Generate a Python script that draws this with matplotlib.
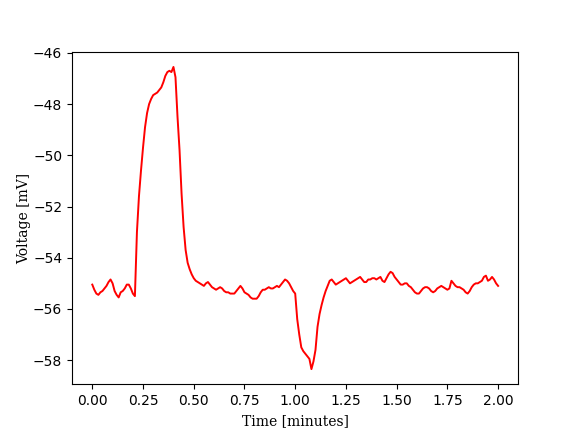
import numpy as np
import matplotlib
matplotlib.use("Agg")
import matplotlib.pyplot as plt

voltage_mv = [
    -55.05, -55.25, -55.40, -55.45, -55.35, -55.30, -55.20, -55.10, -54.95, -54.85,  # 0.00-0.09
    -55.00, -55.30, -55.45, -55.55, -55.35, -55.30, -55.20, -55.05, -55.05, -55.20,  # 0.10-0.19
    -55.40, -55.50, -53.00, -51.60, -50.60, -49.70, -48.90, -48.35, -48.00, -47.80,  # 0.20-0.29
    -47.65, -47.60, -47.55, -47.45, -47.35, -47.15, -46.90, -46.75, -46.70, -46.75,  # 0.30-0.39
    -46.55, -46.95, -48.50, -49.80, -51.50, -52.80, -53.70, -54.20, -54.45, -54.65,  # 0.40-0.49
    -54.80, -54.90, -54.95, -55.00, -55.05, -55.10, -55.00, -54.95, -55.05, -55.15,  # 0.50-0.59
    -55.20, -55.25, -55.20, -55.15, -55.20, -55.30, -55.35, -55.35, -55.40, -55.40,  # 0.60-0.69
    -55.40, -55.30, -55.20, -55.10, -55.20, -55.35, -55.40, -55.45, -55.55, -55.60,  # 0.70-0.79
    -55.60, -55.60, -55.50, -55.35, -55.25, -55.25, -55.20, -55.15, -55.20, -55.20,  # 0.80-0.89
    -55.15, -55.10, -55.15, -55.05, -54.95, -54.85, -54.90, -55.00, -55.15, -55.30,  # 0.90-0.99
    -55.40, -56.40, -57.00, -57.50, -57.65, -57.75, -57.85, -57.95, -58.35, -58.05,  # 1.00-1.09
    -57.60, -56.70, -56.20, -55.85, -55.55, -55.30, -55.10, -54.90, -54.85, -54.95,  # 1.10-1.19
    -55.05, -55.00, -54.95, -54.90, -54.85, -54.80, -54.90, -55.00, -54.95, -54.90,  # 1.20-1.29
    -54.85, -54.80, -54.75, -54.85, -54.95, -54.95, -54.85, -54.85, -54.80, -54.80,  # 1.30-1.39
    -54.85, -54.80, -54.75, -54.90, -54.95, -54.80, -54.65, -54.55, -54.60, -54.75,  # 1.40-1.49
    -54.85, -54.95, -55.05, -55.05, -55.00, -55.00, -55.10, -55.15, -55.25, -55.35,  # 1.50-1.59
    -55.40, -55.40, -55.30, -55.20, -55.15, -55.15, -55.20, -55.30, -55.35, -55.30,  # 1.60-1.69
    -55.20, -55.15, -55.10, -55.15, -55.20, -55.25, -55.20, -54.90, -55.00, -55.10,  # 1.70-1.79
    -55.15, -55.15, -55.20, -55.25, -55.35, -55.40, -55.30, -55.15, -55.05, -55.00,  # 1.80-1.89
    -55.00, -54.95, -54.90, -54.75, -54.70, -54.90, -54.85, -54.75, -54.85, -55.00,  # 1.90-1.99
    -55.10,                                                                          # 2.00
]
time_min = np.linspace(0.0, 2.0, len(voltage_mv))

fig, ax = plt.subplots(figsize=(5.76, 4.32), dpi=100)
ax.plot(time_min, voltage_mv, color="red", linewidth=1.4)
ax.set_ylim(-58.95, -45.96)
ax.set_xlabel("Time [minutes]", family="DejaVu Serif")
ax.set_ylabel("Voltage [mV]", family="DejaVu Serif", labelpad=1.5)
fig.savefig("out.png", dpi=100)
